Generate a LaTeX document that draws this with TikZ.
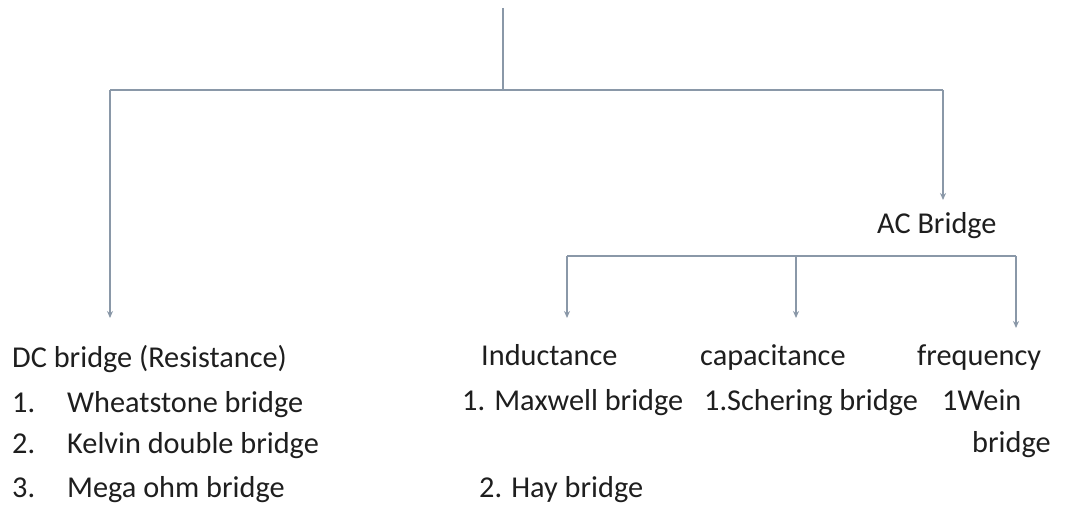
\documentclass[tikz,border=0pt]{standalone}
\usepackage{fontspec}
\setmainfont{Carlito}
\usetikzlibrary{arrows.meta}
\definecolor{linec}{HTML}{8A98A8}
\definecolor{textc}{HTML}{1E1E1E}
\tikzset{
  conn/.style={draw=linec, line width=1.6pt},
  arr/.style={conn, -{Stealth[length=7pt,width=6pt]}},
  lbl/.style={anchor=base west, inner sep=0pt, text=textc, font=\fontsize{30.3}{36}\selectfont},
}
\begin{document}
\begin{tikzpicture}[x=1pt,y=-1pt]
\useasboundingbox (0,0) rectangle (1078,508);
% junctions
\coordinate (top) at (503,8);
\coordinate (j1) at (503,90);
\coordinate (jl) at (110,90);
\coordinate (jr) at (943,90);
\coordinate (dcin) at (110,318);
\coordinate (acin) at (943,200);
\coordinate (a1) at (567,256);
\coordinate (a2) at (796,256);
\coordinate (a3) at (1016,256);
\coordinate (indin) at (567,318);
\coordinate (capin) at (796,318);
\coordinate (freqin) at (1016,328);
% labels
\node[lbl] (ac) at (877,233) {AC Bridge};
\node[lbl] (dc) at (12,367) {DC bridge (Resistance)};
\node[lbl] (n1) at (12,412) {1.};
\node[lbl] (w1) at (67,412) {Wheatstone bridge};
\node[lbl] (n2) at (12,453) {2.};
\node[lbl] (w2) at (67,453) {Kelvin double bridge};
\node[lbl] (n3) at (12,497) {3.};
\node[lbl] (w3) at (67,497) {Mega ohm bridge};
\node[lbl] (ind) at (481,365) {Inductance};
\node[lbl] (mx) at (462,410) {1. Maxwell bridge};
\node[lbl] (hay) at (479,497) {2. Hay bridge};
\node[lbl] (cap) at (700,365) {capacitance};
\node[lbl] (sch) at (704,410) {1.Schering bridge};
\node[lbl] (freq) at (917,365) {frequency};
\node[lbl] (wein) at (942,410) {1Wein};
\node[lbl] (wein2) at (972,452) {bridge};
% connectors
\draw[conn] (top) -- (j1);
\draw[conn] (jl) -- (jr);
\draw[arr] (jl) -- (dcin);
\draw[arr] (jr) -- (acin);
\draw[conn] (a1) -- (a3);
\draw[arr] (a1) -- (indin);
\draw[arr] (a2) -- (capin);
\draw[arr] (a3) -- (freqin);
\end{tikzpicture}
\end{document}
